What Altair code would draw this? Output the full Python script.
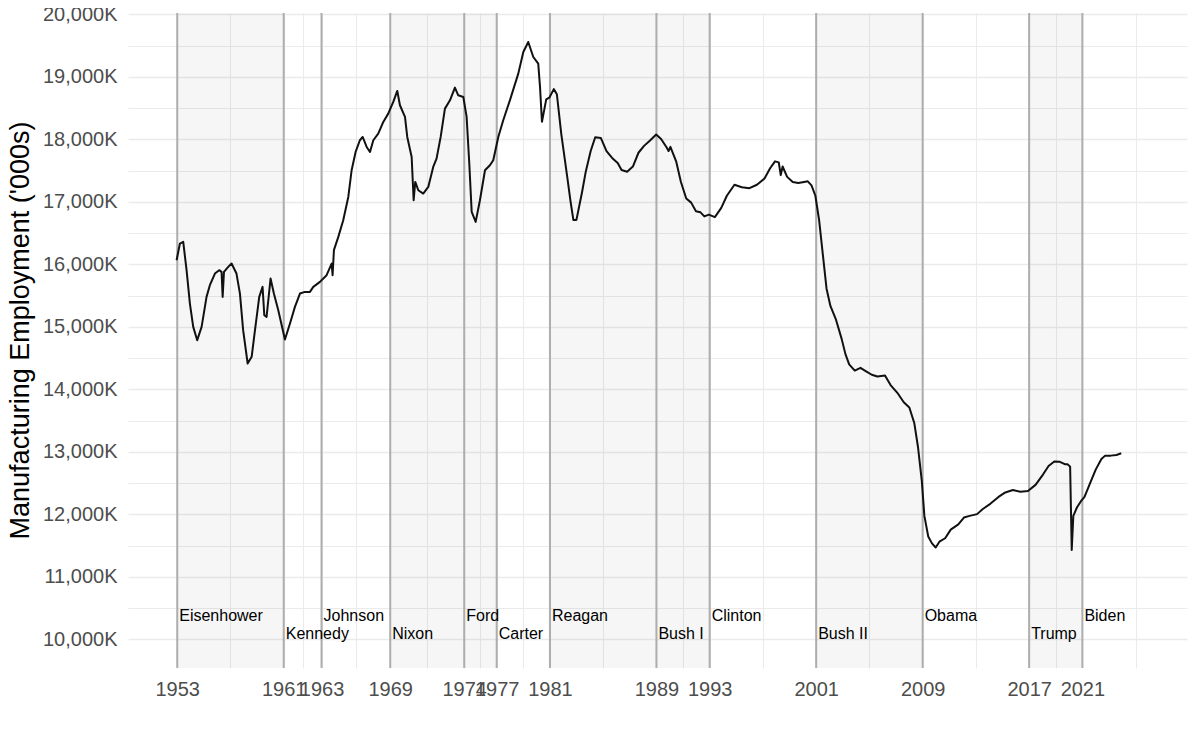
import altair as alt
import pandas as pd

# ---- data ----
years = [
    1953.0, 1953.25, 1953.5, 1953.75, 1954.0, 1954.25, 1954.55, 1954.88, 1955.25, 1955.5,
    1955.88, 1956.2, 1956.38, 1956.46, 1956.56, 1956.88, 1957.13, 1957.5, 1957.76, 1958.0,
    1958.34, 1958.64, 1958.89, 1959.21, 1959.46, 1959.59, 1959.76, 1960.06, 1960.31, 1960.64,
    1961.14, 1961.52, 1961.89, 1962.27, 1962.64, 1963.02, 1963.27, 1963.77, 1964.27, 1964.65,
    1964.72, 1964.82, 1965.15, 1965.52, 1965.9, 1966.15, 1966.45, 1966.77, 1966.98, 1967.28,
    1967.53, 1967.78, 1968.15, 1968.53, 1968.9, 1969.28, 1969.58, 1969.78, 1970.16, 1970.33,
    1970.66, 1970.81, 1970.93, 1971.16, 1971.53, 1971.91, 1972.28, 1972.53, 1972.84, 1973.16,
    1973.54, 1973.91, 1974.16, 1974.54, 1974.79, 1974.99, 1975.17, 1975.47, 1975.79, 1976.17,
    1976.54, 1976.79, 1977.17, 1977.54, 1978.04, 1978.67, 1979.05, 1979.42, 1979.8, 1980.17,
    1980.3, 1980.45, 1980.77, 1981.0, 1981.34, 1981.57, 1981.9, 1982.33, 1982.61, 1982.81,
    1983.04, 1983.46, 1983.74, 1984.11, 1984.45, 1984.87, 1985.3, 1985.72, 1986.14, 1986.43,
    1986.85, 1987.28, 1987.7, 1988.12, 1988.55, 1989.03, 1989.4, 1989.82, 1989.96, 1990.1,
    1990.53, 1990.89, 1991.29, 1991.66, 1992.02, 1992.36, 1992.65, 1992.99, 1993.44, 1993.92,
    1994.34, 1994.91, 1995.47, 1996.04, 1996.6, 1997.17, 1997.59, 1997.96, 1998.24, 1998.39,
    1998.53, 1998.87, 1999.29, 1999.71, 2000.14, 2000.42, 2000.7, 2000.99, 2001.27, 2001.55,
    2001.83, 2002.12, 2002.54, 2002.96, 2003.25, 2003.53, 2003.95, 2004.38, 2004.8, 2005.23,
    2005.65, 2006.22, 2006.64, 2007.2, 2007.63, 2008.05, 2008.42, 2008.7, 2008.99, 2009.18,
    2009.47, 2009.75, 2010.03, 2010.31, 2010.74, 2011.16, 2011.73, 2012.15, 2012.58, 2013.14,
    2013.57, 2014.13, 2014.75, 2015.26, 2015.83, 2016.39, 2016.96, 2017.53, 2018.09, 2018.51,
    2018.94, 2019.36, 2019.73, 2019.93, 2020.13, 2020.25, 2020.37, 2020.65, 2020.93, 2021.21,
    2021.63, 2022.06, 2022.48, 2022.76, 2023.18, 2023.61, 2023.97,
]
employment = [
    16066, 16332, 16359, 15906, 15372, 14999, 14786, 14999, 15479, 15666,
    15852, 15906, 15879, 15479, 15879, 15959, 16012, 15852, 15532, 14946,
    14413, 14520, 14946, 15479, 15639, 15186, 15159, 15772, 15532, 15266,
    14797, 15053, 15319, 15532, 15559, 15559, 15639, 15719, 15826, 16012,
    15826, 16226, 16439, 16705, 17078, 17505, 17798, 17985, 18038, 17878,
    17798, 17985, 18091, 18278, 18411, 18598, 18774, 18545, 18358, 18038,
    17718, 17025, 17318, 17185, 17132, 17238, 17558, 17692, 18038, 18491,
    18624, 18827, 18704, 18678, 18358, 17612, 16839, 16679, 17025, 17505,
    17585, 17665, 18038, 18305, 18624, 19051, 19397, 19557, 19317, 19211,
    18850, 18280, 18638, 18666, 18803, 18721, 18088, 17427, 16987, 16711,
    16711, 17152, 17482, 17812, 18033, 18022, 17812, 17702, 17620, 17509,
    17482, 17564, 17785, 17895, 17978, 18077, 18005, 17868, 17812, 17879,
    17648, 17317, 17053, 16987, 16849, 16832, 16766, 16794, 16755, 16904,
    17097, 17273, 17234, 17218, 17273, 17372, 17537, 17647, 17631, 17427,
    17565, 17399, 17317, 17300, 17317, 17328, 17262, 17097, 16711, 16160,
    15610, 15334, 15114, 14811, 14563, 14398, 14299, 14343, 14288, 14233,
    14205, 14222, 14068, 13930, 13793, 13710, 13462, 13077, 12526, 11975,
    11645, 11535, 11469, 11562, 11617, 11755, 11838, 11948, 11975, 12003,
    12085, 12168, 12278, 12350, 12388, 12361, 12372, 12471, 12636, 12774,
    12846, 12840, 12802, 12802, 12763, 11430, 11975, 12113, 12206, 12278,
    12498, 12719, 12884, 12939, 12939, 12950, 12977,
]

presidents = ["Eisenhower", "Kennedy", "Johnson", "Nixon", "Ford", "Carter", "Reagan",
              "Bush I", "Clinton", "Bush II", "Obama", "Trump", "Biden"]
term_start = [1953.05, 1961.05, 1963.89, 1969.05, 1974.61, 1977.05, 1981.05,
              1989.05, 1993.05, 2001.05, 2009.05, 2017.05, 2021.05]
term_end = [1961.05, 1963.89, 1969.05, 1974.61, 1977.05, 1981.05, 1989.05,
            1993.05, 2001.05, 2009.05, 2017.05, 2021.05, 2025.05]
party = ["R", "D", "D", "R", "R", "D", "R", "R", "D", "R", "D", "R", "D"]
label_y = [10290, 10000, 10290, 10000, 10290, 10000, 10290,
           10000, 10290, 10000, 10290, 10000, 10290]
tick_labels = ["1953", "1961", "1963", "1969", "1974", "1977", "1981",
               "1989", "1993", "2001", "2009", "2017", "2021"]

line_df = pd.DataFrame({"year": years, "value": employment})
pres_df = pd.DataFrame({"president": presidents, "start": term_start, "end": term_end,
                        "party": party, "label_y": label_y})

# ---- axes / scales ----
W, H = 1059, 655
minor_x = [(a + b) / 2 for a, b in zip(term_start[:-1], term_start[1:])] + [2025.05]
x_values = term_start + minor_x
starts_js = "[" + ",".join(repr(v) for v in term_start) + "]"
labels_js = "[" + ",".join("'" + t + "'" for t in tick_labels) + "]"
x_label_expr = f"{labels_js}[indexof({starts_js}, datum.value)] || ''"

x_scale = alt.Scale(domain=[1949.35, 2028.91], nice=False, zero=False)
y_scale = alt.Scale(domain=[9541, 20021], nice=False, zero=False)

x_axis = alt.Axis(
    values=x_values, labelExpr=x_label_expr, title=None, grid=True,
    gridColor="#EBEBEB", gridWidth=1.1, ticks=False, tickSize=0, domain=False,
    labelFontSize=20, labelColor="#4D4D4D", labelPadding=11, labelOverlap=False,
    labelFlush=False, labelFont="Liberation Sans",
)
y_axis = alt.Axis(
    values=list(range(10000, 20001, 500)),
    labelExpr="datum.value % 1000 == 0 ? format(datum.value, ',') + 'K' : ''",
    title="Manufacturing Employment ('000s)", grid=True, gridColor="#EBEBEB",
    gridWidth=alt.ExprRef(expr="datum.value % 1000 == 0 ? 1.6 : 1.0"),
    ticks=False, tickSize=0, domain=False, labelFontSize=20, labelColor="#4D4D4D",
    labelPadding=11, labelFont="Liberation Sans",
    titleFontSize=27, titleFontWeight="normal", titleColor="#000000",
    titleFont="Liberation Sans", titleAngle=270, titleBaseline="bottom",
    titleAlign="center", titleX=-94, titleY=317,
)

shade = alt.Chart(pres_df).transform_filter(alt.datum.party == "R").mark_rect(
    color="#000000", opacity=0.035
).encode(
    x=alt.X("start:Q", scale=x_scale, axis=x_axis),
    x2="end:Q",
    y=alt.value(0),
    y2=alt.value(H),
)

vlines = alt.Chart(pres_df).mark_rule(color="#ADADAD", strokeWidth=2).encode(
    x=alt.X("start:Q", scale=x_scale, axis=x_axis),
)

line = alt.Chart(line_df).mark_line(color="#111111", strokeWidth=2, strokeJoin="round").encode(
    x=alt.X("year:Q", scale=x_scale, axis=x_axis),
    y=alt.Y("value:Q", scale=y_scale, axis=y_axis),
)

labels = alt.Chart(pres_df).mark_text(
    align="left", baseline="alphabetic", dx=2, fontSize=16,
    font="Liberation Sans", color="#000000",
).encode(
    x=alt.X("start:Q", scale=x_scale, axis=x_axis),
    y=alt.Y("label_y:Q", scale=y_scale, axis=y_axis),
    text="president:N",
)

chart = alt.layer(shade, vlines, line, labels).properties(
    width=W, height=H,
    autosize=alt.AutoSizeParams(type="none"),
    padding={"left": 120, "top": 5, "right": 5, "bottom": 40},
).configure(font="Liberation Sans").configure_view(stroke=None, strokeWidth=0)

chart.save("out.html", embed_options={"renderer": "svg", "actions": False})
